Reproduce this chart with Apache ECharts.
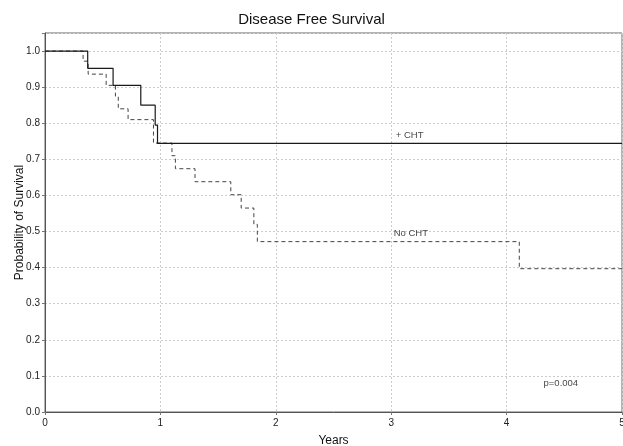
<!DOCTYPE html>
<html>
<head>
<meta charset="utf-8">
<script src="https://cdn.jsdelivr.net/npm/echarts@6/dist/echarts.min.js"></script>
<style>html,body{margin:0;padding:0;background:#fff}#c{width:623px;height:446px}</style>
</head>
<body>
<div id="c"></div>
<script>
// +CHT group: event times (years) and survival probabilities
const chtTimes = [0, 0.37, 0.59, 0.83, 0.955, 0.975, 5];
const chtSurv  = [1.0, 0.952, 0.905, 0.85, 0.795, 0.744, 0.744];
// No CHT group
const noChtTimes = [0, 0.33, 0.374, 0.53, 0.61, 0.635, 0.72, 0.94, 1.10, 1.13, 1.30, 1.61, 1.70, 1.81, 1.84, 4.11, 5];
const noChtSurv  = [1.0, 0.972, 0.936, 0.905, 0.875, 0.84, 0.81, 0.745, 0.71, 0.674, 0.638, 0.602, 0.565, 0.52, 0.472, 0.397, 0.397];
// annotations
const labels = [
  {text: '+ CHT', x: 3.16, y: 0.767},
  {text: 'No CHT', x: 3.17, y: 0.496},
  {text: 'p=0.004', x: 4.47, y: 0.08}
];
const xTicks = [0, 1, 2, 3, 4, 5];

function pairs(t, s) { return t.map((v, i) => [v, s[i]]); }

const chart = echarts.init(document.getElementById('c'), null, {renderer: 'canvas'});
const font = 'Liberation Sans, Arial, sans-serif';
chart.setOption({
  animation: false,
  backgroundColor: '#fff',
  title: {
    text: 'Disease Free Survival', left: 'center', top: 7,
    textStyle: {fontFamily: font, fontSize: 15, fontWeight: 'normal', color: '#111'}
  },
  grid: {left: 45, right: 1, top: 33, bottom: 34, containLabel: false, outerBoundsMode: 'none',
    show: true, borderColor: '#666', borderWidth: 1, backgroundColor: 'transparent'},
  xAxis: {
    type: 'value', min: xTicks[0], max: xTicks[xTicks.length - 1], interval: 1,
    name: 'Years', nameLocation: 'middle', nameGap: 23,
    nameTextStyle: {fontFamily: font, fontSize: 12, color: '#111'},
    axisLine: {lineStyle: {color: '#555'}},
    axisTick: {show: true, length: 3, lineStyle: {color: '#777'}},
    axisLabel: {fontFamily: font, fontSize: 10, color: '#222', margin: 6},
    splitLine: {show: true, lineStyle: {color: '#cccccc', type: [2, 2], width: 1}}
  },
  yAxis: {
    type: 'value', min: 0, max: 1.05, interval: 0.1,
    name: 'Probability of Survival', nameLocation: 'middle', nameGap: 19, nameMoveOverlap: false,
    nameTextStyle: {fontFamily: font, fontSize: 12, color: '#111'},
    axisLine: {show: true, lineStyle: {color: '#555'}},
    axisTick: {show: true, length: 3, lineStyle: {color: '#777'}},
    axisLabel: {fontFamily: font, fontSize: 10, color: '#222', margin: 5,
      formatter: v => v > 1.001 ? '' : v.toFixed(1)},
    splitLine: {show: true, lineStyle: {color: '#cccccc', type: [2, 2], width: 1}}
  },
  series: [
    {
      name: '+ CHT', type: 'line', step: 'end', symbol: 'none',
      data: pairs(chtTimes, chtSurv),
      lineStyle: {color: '#1a1a1a', width: 1.2, type: 'solid'},
      z: 3
    },
    {
      name: 'No CHT', type: 'line', step: 'end', symbol: 'none',
      data: pairs(noChtTimes, noChtSurv),
      lineStyle: {color: '#444', width: 1, type: [4, 3]},
      z: 2
    },
    {
      name: 'labels', type: 'scatter', symbolSize: 0,
      data: labels.map(l => ({value: [l.x, l.y], name: l.text})),
      label: {show: true, position: 'inside', formatter: p => p.name,
        fontFamily: font, fontSize: 9.5, color: '#111'},
      silent: true, z: 5
    }
  ]
});
</script>
</body>
</html>
